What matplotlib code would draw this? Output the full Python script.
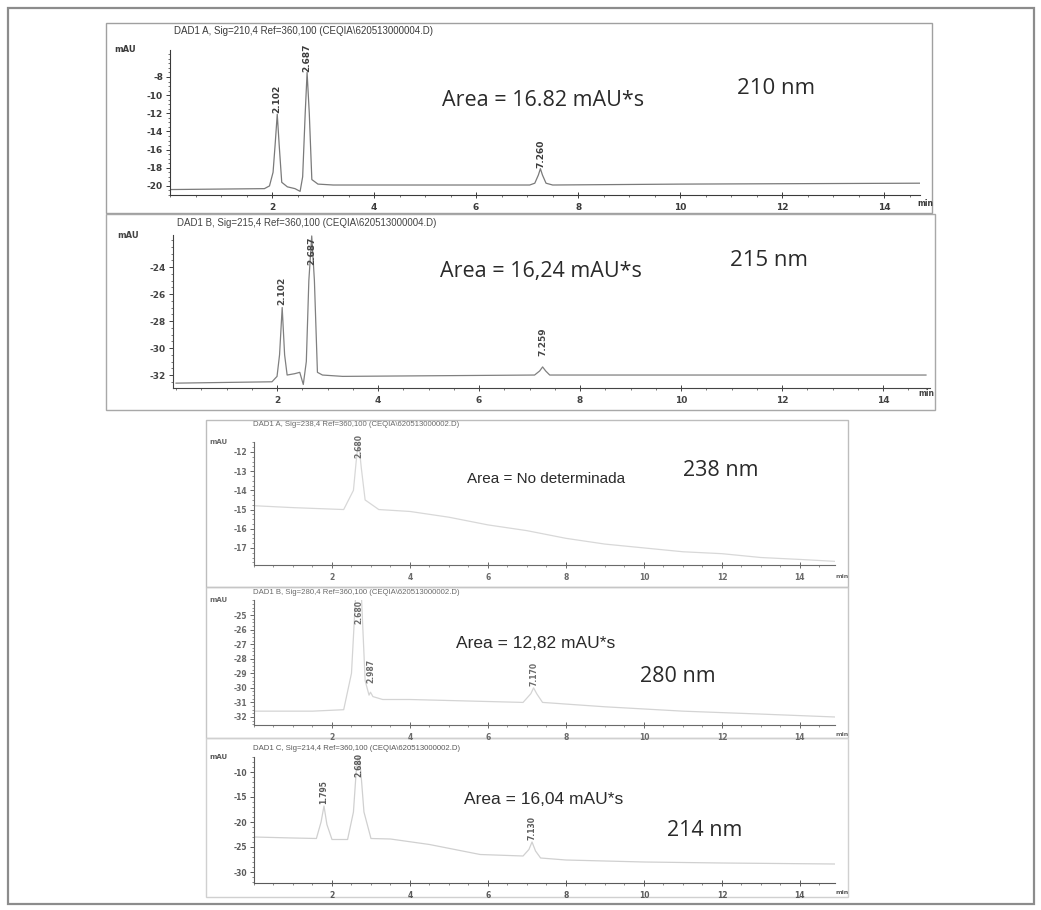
import matplotlib
matplotlib.use("Agg")
import matplotlib.pyplot as plt
from matplotlib.ticker import MultipleLocator
from matplotlib.patches import Rectangle

W, H = 1041, 910

# ---------------- data ----------------
# Panel 1: DAD1 A 210 nm
t_210 = [0.0, 1.85, 1.95, 2.02, 2.06, 2.102, 2.14, 2.19, 2.3, 2.45, 2.55, 2.6, 2.65, 2.687,
         2.73, 2.78, 2.9, 3.2, 7.05, 7.15, 7.22, 7.26, 7.30, 7.37, 7.5, 10.0, 14.7]
s_210 = [-20.4, -20.3, -20.0, -18.5, -15.5, -12.1, -15.5, -19.6, -20.1, -20.3, -20.6, -19.0,
         -12.0, -7.5, -12.0, -19.3, -19.8, -19.9, -19.9, -19.7, -18.8, -18.1, -18.8, -19.7,
         -19.9, -19.8, -19.7]
peaks_210 = [2.102, 2.687, 7.260]
peak_lbl_y_210 = [-12.0, -7.4, -18.0]

# Panel 2: DAD1 B 215 nm
t_215 = [0.0, 1.9, 2.0, 2.05, 2.102, 2.15, 2.2, 2.35, 2.45, 2.52, 2.58, 2.63, 2.687, 2.74,
         2.8, 2.9, 3.3, 7.1, 7.2, 7.259, 7.32, 7.4, 14.85]
s_215 = [-32.6, -32.5, -32.1, -30.5, -27.0, -30.5, -32.0, -31.9, -31.8, -32.7, -31.0, -25.0,
         -21.7, -25.0, -31.8, -32.0, -32.1, -32.0, -31.7, -31.4, -31.7, -32.0, -32.0]
peaks_215 = [2.102, 2.687, 7.259]
peak_lbl_y_215 = [-26.8, -21.75, -30.6]

# Panel 3: DAD1 A 238 nm
t_238 = [0.0, 1.0, 2.3, 2.55, 2.62, 2.68, 2.75, 2.85, 3.2, 4.0, 5.0, 6.0, 7.0, 8.0, 9.0,
         10.0, 11.0, 12.0, 13.0, 14.0, 14.9]
s_238 = [-14.8, -14.9, -15.0, -14.0, -12.5, -11.4, -12.8, -14.5, -15.0, -15.1, -15.4, -15.8,
         -16.1, -16.5, -16.8, -17.0, -17.2, -17.3, -17.5, -17.6, -17.7]
peaks_238 = [2.680]
peak_lbl_y_238 = [-12.3]

# Panel 4: DAD1 B 280 nm
t_280 = [0.0, 1.5, 2.3, 2.5, 2.6, 2.68, 2.76, 2.85, 2.95, 2.987, 3.05, 3.3, 4.0, 6.9, 7.1,
         7.17, 7.25, 7.4, 9.0, 11.0, 13.0, 14.9]
s_280 = [-31.6, -31.6, -31.5, -29.0, -24.0, -20.0, -24.0, -29.5, -30.5, -30.3, -30.6, -30.8,
         -30.8, -31.0, -30.4, -30.0, -30.4, -31.0, -31.3, -31.6, -31.8, -32.0]
peaks_280 = [2.680, 2.987, 7.170]
peak_lbl_y_280 = [-25.6, -29.7, -29.9]

# Panel 5: DAD1 ? 214 nm
t_214 = [0.0, 1.0, 1.6, 1.72, 1.795, 1.87, 2.0, 2.4, 2.55, 2.62, 2.68, 2.74, 2.82, 3.0, 3.5,
         4.5, 5.8, 6.9, 7.05, 7.13, 7.22, 7.35, 8.0, 10.0, 12.0, 14.9]
s_214 = [-23.0, -23.2, -23.3, -20.0, -16.8, -20.5, -23.5, -23.5, -18.0, -10.0, -6.0, -10.0,
         -18.0, -23.3, -23.4, -24.5, -26.5, -26.8, -25.5, -24.0, -25.8, -27.2, -27.6, -28.0,
         -28.2, -28.4]
peaks_214 = [1.795, 2.680, 7.130]
peak_lbl_y_214 = [-16.5, -11.0, -23.5]
peak_txt_214 = ["1.795", "2.680", "7.130"]

x_ticks = [2, 4, 6, 8, 10, 12, 14]
yt_210 = [-8, -10, -12, -14, -16, -18, -20]
yt_215 = [-24, -26, -28, -30, -32]
yt_238 = [-12, -13, -14, -15, -16, -17]
yt_280 = [-25, -26, -27, -28, -29, -30, -31, -32]
yt_214 = [-10, -15, -20, -25, -30]

titles = [
    "DAD1 A, Sig=210,4 Ref=360,100 (CEQIA\\620513000004.D)",
    "DAD1 B, Sig=215,4 Ref=360,100 (CEQIA\\620513000004.D)",
    "DAD1 A, Sig=238,4 Ref=360,100 (CEQIA\\620513000002.D)",
    "DAD1 B, Sig=280,4 Ref=360,100 (CEQIA\\620513000002.D)",
    "DAD1 C, Sig=214,4 Ref=360,100 (CEQIA\\620513000002.D)",
]
area_txt = ["Area = 16.82 mAU*s", "Area = 16,24 mAU*s", "Area = No determinada",
            "Area = 12,82 mAU*s", "Area = 16,04 mAU*s"]
wl_txt = ["210 nm", "215 nm", "238 nm", "280 nm", "214 nm"]

# ---------------- figure ----------------
fig = plt.figure(figsize=(W / 100, H / 100), dpi=100)
fig.patch.set_facecolor("white")

bg = fig.add_axes([0, 0, 1, 1])
bg.set_xlim(0, W)
bg.set_ylim(H, 0)
bg.axis("off")

def frame(x0, y0, x1, y1, col="#9a9a9a", lw=1.0):
    bg.add_patch(Rectangle((x0, y0), x1 - x0, y1 - y0, fill=False, ec=col, lw=lw))

# outer border
frame(8, 8, 1034, 904, col="#8c8c8c", lw=1.6)
# panel frames
frame(106, 23, 932, 213, col="#a0a0a0", lw=1.0)
frame(106, 214, 935, 410, col="#a8a8a8", lw=1.0)
frame(206, 420, 848, 587, col="#bdbdbd", lw=1.0)
frame(206, 587, 848, 738, col="#c6c6c6", lw=1.0)
frame(206, 738, 848, 897, col="#d0d0d0", lw=1.0)

def rect(x0, y0, x1, y1):
    return [x0 / W, 1 - y1 / H, (x1 - x0) / W, (y1 - y0) / H]

def panel(px, xlim, ylim, yt, ymin, t, s, peaks, lbl_y, lbl_txt, trace_col, txt_col,
          fs, title, title_xy, tfs, minlab_xy, lbl_va=None):
    ax = fig.add_axes(rect(*px))
    ax.set_xlim(*xlim)
    ax.set_ylim(*ylim)
    ax.patch.set_alpha(0)
    for sp in ("top", "right"):
        ax.spines[sp].set_visible(False)
    ax.spines["left"].set_color(txt_col)
    ax.spines["bottom"].set_color(txt_col)
    ax.spines["left"].set_linewidth(0.8)
    ax.spines["bottom"].set_linewidth(0.8)
    ax.set_xticks(x_ticks)
    ax.set_xticklabels([str(v) for v in x_ticks])
    ax.set_yticks(yt)
    ax.set_yticklabels([str(v) for v in yt])
    ax.xaxis.set_minor_locator(MultipleLocator(0.5))
    ax.yaxis.set_minor_locator(MultipleLocator(ymin))
    ax.tick_params(axis="both", which="major", labelsize=fs, colors=txt_col,
                   length=3, width=0.7, pad=2)
    ax.tick_params(axis="x", which="major", direction="inout", length=5, pad=3)
    ax.tick_params(axis="both", which="minor", length=1.5, width=0.5, colors=txt_col)
    for lab in ax.get_xticklabels() + ax.get_yticklabels():
        lab.set_fontweight("bold")
    ax.plot(t, s, color=trace_col, lw=0.9, clip_on=True)
    if lbl_va is None:
        lbl_va = ["bottom"] * len(peaks)
    for p, ly, lt, va in zip(peaks, lbl_y, lbl_txt, lbl_va):
        ax.text(p, ly, lt, rotation=90, ha="center", va=va, fontsize=fs,
                color=txt_col, fontweight="bold", clip_on=False)
    ax.text(-0.045, 1.0, "mAU", transform=ax.transAxes, ha="right", va="center",
            fontsize=fs - 0.5, color=txt_col, fontweight="bold")
    bg.text(title_xy[0], title_xy[1], title, fontsize=tfs, color=txt_col,
            ha="left", va="center", family="Liberation Sans")
    bg.text(minlab_xy[0], minlab_xy[1], "min", fontsize=fs - 1, color=txt_col,
            ha="left", va="center", fontweight="bold")
    return ax

panel((170, 50, 920, 195), (0, 14.7), (-21.0, -5.03), yt_210, 0.5,
      t_210, s_210, peaks_210, peak_lbl_y_210, ["2.102", "2.687", "7.260"],
      "#7a7a7a", "#3a3a3a", 6.5, titles[0], (174, 31), 7.0, (917, 203))
panel((173, 235, 930, 388), (-0.06, 14.93), (-32.96, -21.63), yt_215, 0.5,
      t_215, s_215, peaks_215, peak_lbl_y_215, ["2.102", "2.687", "7.259"],
      "#808080", "#444444", 6.5, titles[1], (177, 223), 7.0, (918, 393),
      lbl_va=["bottom", "top", "bottom"])
panel((254, 442, 835, 565), (0, 14.9), (-17.89, -11.48), yt_238, 0.25,
      t_238, s_238, peaks_238, peak_lbl_y_238, ["2.680"],
      "#d8d8d8", "#6a6a6a", 5.5, titles[2], (253, 425), 5.6, (836, 577))
panel((254, 600, 835, 725), (0, 14.9), (-32.55, -23.97), yt_280, 0.25,
      t_280, s_280, peaks_280, peak_lbl_y_280, ["2.680", "2.987", "7.170"],
      "#d4d4d4", "#6a6a6a", 5.5, titles[3], (253, 592), 5.6, (836, 735))
panel((254, 757, 835, 883), (0, 14.9), (-32.2, -7.0), yt_214, 1.0,
      t_214, s_214, peaks_214, peak_lbl_y_214, peak_txt_214,
      "#d0d0d0", "#5a5a5a", 5.5, titles[4], (253, 748), 5.6, (836, 893))

# annotations
top_font = "Open Sans"
bg.text(442, 101, area_txt[0], fontsize=15.5, family=top_font, color="#2a2a2a",
        ha="left", va="center")
bg.text(737, 89, wl_txt[0], fontsize=16, family=top_font, color="#2a2a2a",
        ha="left", va="center")
bg.text(440, 272, area_txt[1], fontsize=15.5, family=top_font, color="#2a2a2a",
        ha="left", va="center")
bg.text(730, 261, wl_txt[1], fontsize=16, family=top_font, color="#2a2a2a",
        ha="left", va="center")
bg.text(467, 479, area_txt[2], fontsize=11, family="Liberation Sans", color="#2a2a2a",
        ha="left", va="center")
bg.text(683, 470, wl_txt[2], fontsize=15.5, family=top_font, color="#2a2a2a",
        ha="left", va="center")
bg.text(456, 643, area_txt[3], fontsize=12.5, family="Liberation Sans", color="#2a2a2a",
        ha="left", va="center")
bg.text(640, 677, wl_txt[3], fontsize=15.5, family=top_font, color="#2a2a2a",
        ha="left", va="center")
bg.text(464, 800, area_txt[4], fontsize=12.5, family="Liberation Sans", color="#2a2a2a",
        ha="left", va="center")
bg.text(667, 830, wl_txt[4], fontsize=15.5, family=top_font, color="#2a2a2a",
        ha="left", va="center")

fig.savefig("out.png", dpi=100, facecolor="white")
